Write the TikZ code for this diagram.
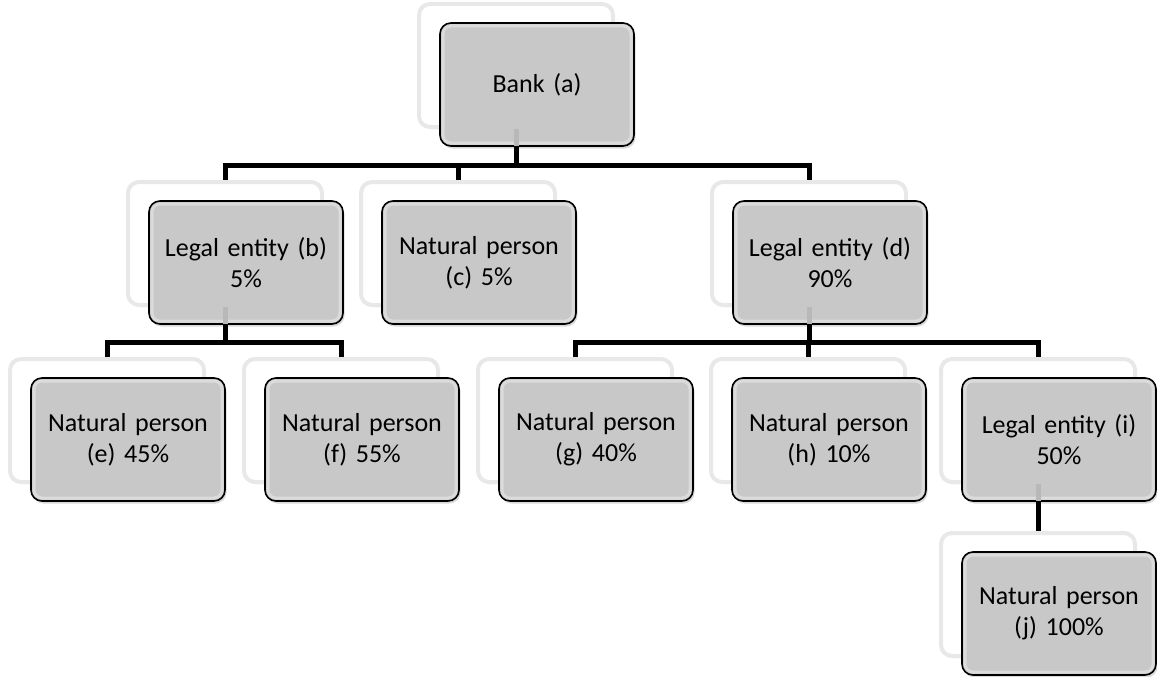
\documentclass[tikz,border=0pt]{standalone}
\usepackage{fontspec}
\setmainfont{Carlito}
\usetikzlibrary{shadows,calc}
\definecolor{boxgray}{RGB}{200,200,200}
\definecolor{rimgray}{RGB}{232,232,232}
\begin{document}
\begin{tikzpicture}[x=1pt,y=-1pt,
  mainbox/.style={draw=black, line width=1.6pt, fill=boxgray, rounded corners=11pt,
    minimum width=194pt, minimum height=123pt, inner sep=0pt, text width=186pt,
    align=center, font=\fontsize{26}{31}\selectfont,
    drop shadow={shadow xshift=1.5pt, shadow yshift=-2.5pt, opacity=0.3},
    path picture={\draw[white, opacity=0.35, line width=3pt, rounded corners=8pt]
      ([shift={(3pt,3pt)}]path picture bounding box.south west) rectangle
      ([shift={(-3pt,-3pt)}]path picture bounding box.north east);}},
  backbox/.style={draw=rimgray, line width=4pt, fill=white, rounded corners=11pt,
    minimum width=194pt, minimum height=123pt, inner sep=0pt,
    drop shadow={shadow xshift=1pt, shadow yshift=-2pt, opacity=0.15}},
  conn/.style={line width=5pt, black, line join=miter},
  stub/.style={line width=5pt, black!28}]
\useasboundingbox (0,0) rectangle (1157,677);

% back boxes
\node[backbox] (ab) at (516,65.5) {};
\node[backbox] (bb) at (225,243.5) {};
\node[backbox] (cb) at (458,243.5) {};
\node[backbox] (db) at (809,243.5) {};
\node[backbox] (eb) at (107,420.5) {};
\node[backbox] (fb) at (341,420.5) {};
\node[backbox] (gb) at (575,420.5) {};
\node[backbox] (hb) at (808,420.5) {};
\node[backbox] (ib) at (1038,420.5) {};
\node[backbox] (jb) at (1038,594.5) {};

% main boxes
\node[mainbox] (a) at (537,84.5) {Bank (a)};
\node[mainbox] (b) at (246,262.5) {Legal entity (b)\\5\%};
\node[mainbox] (c) at (479,262.5) {Natural person\\(c) 5\%};
\node[mainbox] (d) at (830,262.5) {Legal entity (d)\\90\%};
\node[mainbox] (e) at (128,439.5) {Natural person\\(e) 45\%};
\node[mainbox] (f) at (362,439.5) {Natural person\\(f) 55\%};
\node[mainbox] (g) at (596,439.5) {Natural person\\(g) 40\%};
\node[mainbox] (h) at (829,439.5) {Natural person\\(h) 10\%};
\node[mainbox] (i) at (1059,439.5) {Legal entity (i)\\50\%};
\node[mainbox] (j) at (1059,613.5) {Natural person\\(j) 100\%};

% stubs seen through the main boxes
\foreach \p in {a,b,d,i}{
  \draw[stub] (\p b.south) -- ($(\p.south -| \p b.south)+(0,-1)$);
}

% bus coordinates
\coordinate (busa) at (516,165);
\coordinate (busb) at (225,342);
\coordinate (busd) at (809,342);

% connectors
\draw[conn] (a.south -| ab.south) -- (busa);
\draw[conn] (bb.north) |- (busa) -| (db.north);
\draw[conn] (busa -| cb.north) -- (cb.north);

\draw[conn] (b.south -| bb.south) -- (busb);
\draw[conn] (eb.north) |- (busb) -| (fb.north);

\draw[conn] (d.south -| db.south) -- (busd);
\draw[conn] (gb.north) |- (busd) -| (ib.north);
\draw[conn] (busd -| hb.north) -- (hb.north);

\draw[conn] (i.south -| ib.south) -- (jb.north);
\end{tikzpicture}
\end{document}
